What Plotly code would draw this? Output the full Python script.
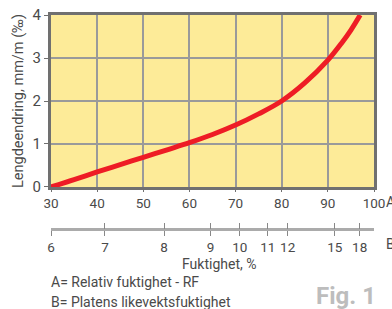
import plotly.graph_objects as go

# Data
rf = [30, 35, 40, 45, 50, 55, 60, 65, 70, 75, 80, 85, 90, 93, 95, 97]
strain = [0.0, 0.17, 0.35, 0.52, 0.69, 0.86, 1.03, 1.22, 1.44, 1.70, 2.0, 2.42, 2.95, 3.35, 3.65, 4.0]
a_ticks = [30, 40, 50, 60, 70, 80, 90, 100]
y_ticks = [0, 1, 2, 3, 4]
b_labels = ["6", "7", "8", "9", "10", "11", "12", "15", "18"]
b_pos = [30.0, 41.7, 54.5, 64.6, 70.9, 77.0, 81.3, 91.5, 96.9]

FONT = "Roboto"
TXT = "#4a4a4a"

fig = go.Figure()
fig.add_trace(go.Scatter(x=rf, y=strain, mode="lines", line=dict(color="#ee1c25", width=5, shape="spline"),
                         showlegend=False, hoverinfo="skip"))
# dummy traces for secondary axes
fig.add_trace(go.Scatter(x=[30, 100], y=[0, 0], xaxis="x2", mode="none", showlegend=False, hoverinfo="skip"))
fig.add_trace(go.Scatter(x=[30, 100], y=[0, 0], xaxis="x3", mode="none", showlegend=False, hoverinfo="skip"))

fig.update_layout(
    width=392, height=309,
    margin=dict(l=51, r=18, t=15, b=60, autoexpand=False),
    paper_bgcolor="white",
    plot_bgcolor="#fdeb98",
    font=dict(family=FONT, color=TXT, size=14),
    xaxis=dict(range=[30, 100], tickvals=a_ticks, showgrid=True, gridcolor="#9a9a9a", gridwidth=1.5,
               showline=True, linecolor="#707070", linewidth=3, mirror=True,
               ticks="outside", ticklen=2, tickcolor="#707070", tickfont=dict(size=13.5, color=TXT),
               zeroline=False, fixedrange=True, automargin=False),
    yaxis=dict(range=[0, 4], tickvals=y_ticks, domain=[0.265, 1], showgrid=True, gridcolor="#9a9a9a", gridwidth=1.5,
               showline=True, linecolor="#707070", linewidth=3, mirror=True,
               ticks="outside", ticklen=4, tickcolor="#707070", tickfont=dict(size=15, color=TXT),
               title=dict(text="Lengdeendring, mm/m (‰)", font=dict(size=14.5, color=TXT), standoff=6),
               zeroline=False, fixedrange=True, automargin=False),
    xaxis2=dict(range=[30, 100], overlaying="x", anchor="free", position=0.0855, side="bottom",
                tickvals=b_pos, ticktext=b_labels, showgrid=False, zeroline=False,
                showline=True, linecolor="#ababab", linewidth=3,
                ticks="outside", ticklen=5, tickcolor="#888888", tickwidth=1,
                tickfont=dict(size=13.5, color=TXT), automargin=False),
    xaxis3=dict(range=[30, 100], overlaying="x", anchor="free", position=0.0855, side="bottom",
                tickvals=b_pos, showticklabels=False, showgrid=False, zeroline=False,
                showline=False, ticks="inside", ticklen=6, tickcolor="#888888", tickwidth=1,
                automargin=False),
)

ann = [
    dict(text="A", x=1.032, y=0.265, xanchor="left", yanchor="top", yshift=-5, font=dict(size=14, color=TXT)),
    dict(text="B", x=1.032, y=0.0855, xanchor="left", yanchor="top", yshift=-5, font=dict(size=14, color=TXT)),
    dict(text="Fuktighet, %", x=0.52, y=-0.063, xanchor="center", yanchor="middle", font=dict(size=14, color=TXT)),
    dict(text="A= Relativ fuktighet - RF", x=-0.006, y=-0.143, xanchor="left", yanchor="middle", font=dict(size=14, color=TXT)),
    dict(text="B= Platens likevektsfuktighet", x=-0.006, y=-0.226, xanchor="left", yanchor="middle", font=dict(size=14, color=TXT)),
    dict(text="<b>Fig. 1</b>", x=0.913, y=-0.2, xanchor="center", yanchor="middle", font=dict(size=24, color="#bdbdbd")),
]
for a in ann:
    a.update(xref="paper", yref="paper", showarrow=False)
fig.update_layout(annotations=ann)

fig.write_html("out.html", config={"displayModeBar": False},
               post_script="document.body.style.margin='0';document.body.style.padding='0';")
